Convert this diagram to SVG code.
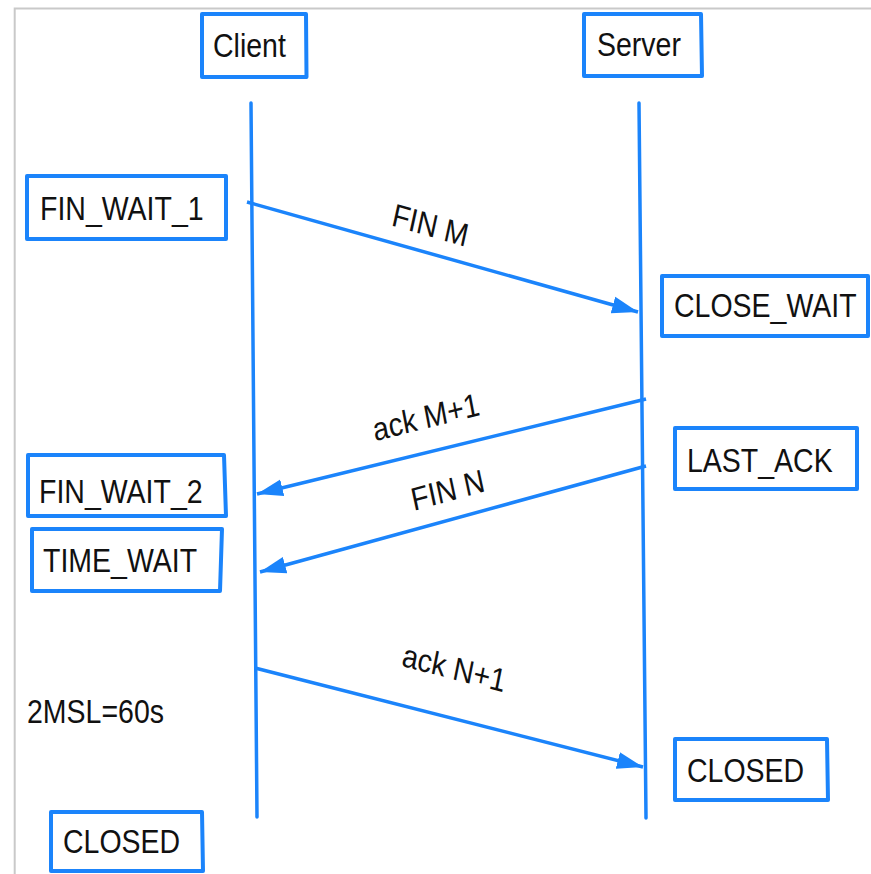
<svg xmlns="http://www.w3.org/2000/svg" width="871" height="874" viewBox="0 0 871 874">
<style>
.box{fill:none;stroke:#1b84fb;stroke-width:4;stroke-linejoin:round;stroke-linecap:round}
.life{stroke:#1b84fb;stroke-width:3.5;stroke-linecap:round;fill:none}
.msg{stroke:#1b84fb;stroke-width:3.5;fill:none}
text{font-family:"Liberation Sans",Arial,sans-serif;font-size:28.5px;fill:#111}
.lbl{text-anchor:middle}
</style>
<defs>
<marker id="ah" markerUnits="userSpaceOnUse" markerWidth="28" markerHeight="20" refX="26" refY="10" orient="auto">
<path d="M0,1.5 L26,10 L0,18.5 Z" fill="#1b84fb"/>
</marker>
</defs>
<rect x="0" y="0" width="871" height="874" fill="#ffffff"/>
<path d="M14.7,874 V8.5 H871" fill="none" stroke="#c9c9c9" stroke-width="2"/>

<g id="client">
<path class="box" d="M202,14 L306,14 L306.5,77 L202,77 Z"/>
<text transform="translate(213,57) scale(1,1.14)">Client</text>
</g>
<g id="server">
<path class="box" d="M584,14 L701,14 L702,76 L584,76 Z"/>
<text transform="translate(597,56) scale(1,1.14)">Server</text>
</g>
<g id="fin_wait_1">
<path class="box" d="M27,176 L226,176 L226,239 L27,239 Z"/>
<text transform="translate(40,220) scale(1,1.14)">FIN_WAIT_1</text>
</g>
<g id="close_wait">
<path class="box" d="M662,276 L868,276 L868,336 L662,336 Z"/>
<text transform="translate(674,317) scale(1,1.14)">CLOSE_WAIT</text>
</g>
<g id="last_ack">
<path class="box" d="M675,428 L857,428 L857,489 L675,489 Z"/>
<text transform="translate(687,472) scale(1,1.14)">LAST_ACK</text>
</g>
<g id="fin_wait_2">
<path class="box" d="M28,455 L224,455 L226,516 L28,516 Z"/>
<text transform="translate(39,503) scale(1,1.14)">FIN_WAIT_2</text>
</g>
<g id="time_wait">
<path class="box" d="M32,529 L222,529 L220,591 L32,591 Z"/>
<text transform="translate(43,572) scale(1,1.14)">TIME_WAIT</text>
</g>
<g id="msl">
<text transform="translate(27,723) scale(1,1.14)">2MSL=60s</text>
</g>
<g id="closed_client">
<path class="box" d="M51,812 L202,812 L203,871 L51,871 Z"/>
<text transform="translate(63,853) scale(1,1.14)">CLOSED</text>
</g>
<g id="closed_server">
<path class="box" d="M675,739 L827,739 L828,800 L675,800 Z"/>
<text transform="translate(687,782) scale(1,1.14)">CLOSED</text>
</g>

<g id="connectors">
<path class="life" d="M251,103 L257,817"/>
<path class="life" d="M639,103 L646,818"/>
<path class="msg" d="M247,202 L638,312" marker-end="url(#ah)"/>
<path class="msg" d="M646,399 L257,494" marker-end="url(#ah)"/>
<path class="msg" d="M646,466 L260,572" marker-end="url(#ah)"/>
<path class="msg" d="M255,668 L643,767" marker-end="url(#ah)"/>
<text class="lbl" transform="translate(428,236) scale(1,1.14) rotate(14)">FIN M</text>
<text class="lbl" transform="translate(428,428) scale(1,1.14) rotate(-12.3)">ack M+1</text>
<text class="lbl" transform="translate(450,501) scale(1,1.14) rotate(-13.6)">FIN N</text>
<text class="lbl" transform="translate(452,679) scale(1,1.14) rotate(12.8)">ack N+1</text>
</g>
</svg>
